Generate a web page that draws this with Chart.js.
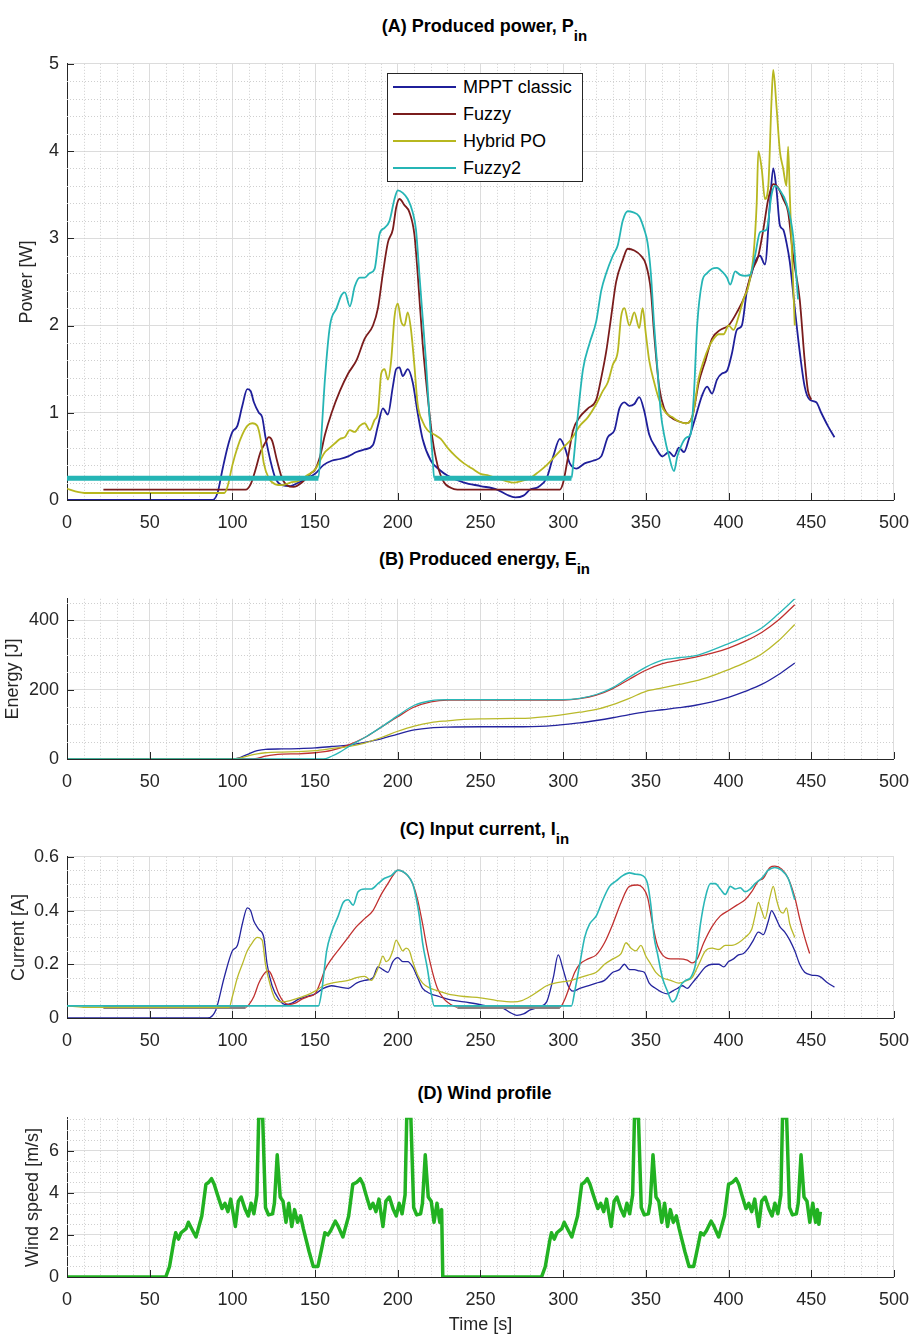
<!DOCTYPE html>
<html><head><meta charset="utf-8">
<script src="https://cdn.jsdelivr.net/npm/chart.js@4.4.1/dist/chart.umd.min.js"></script>
<style>
body{margin:0;background:#fff;width:921px;height:1337px;position:relative;overflow:hidden;font-family:"Liberation Sans",Arial,sans-serif;}
canvas{position:absolute;left:0;}
.ttl{position:absolute;left:67px;width:835px;text-align:center;font-weight:bold;font-size:18px;line-height:20px;color:#000;white-space:nowrap;}
.ttl sub{font-size:15px;vertical-align:-9px;line-height:0;}
#legend{position:absolute;left:387px;top:73px;width:194px;height:107px;border:1px solid #262626;background:#fff;}
.lg{position:absolute;left:0;height:20px;line-height:20px;font-size:18px;color:#000;}
.lg i{position:absolute;left:5px;top:9px;width:63px;height:2px;}
.lg span{position:absolute;left:75px;top:0;white-space:nowrap;}
</style></head><body>
<div class="ttl" style="top:16px">(A) Produced power, P<sub>in</sub></div>
<div class="ttl" style="top:549px">(B) Produced energy, E<sub>in</sub></div>
<div class="ttl" style="top:819px">(C) Input current, I<sub>in</sub></div>
<div class="ttl" style="top:1083px">(D) Wind profile</div>
<canvas id="cA" width="921" height="495" style="top:45px"></canvas>
<canvas id="cB" width="921" height="219" style="top:580px"></canvas>
<canvas id="cC" width="921" height="220" style="top:838px"></canvas>
<canvas id="cD" width="921" height="238" style="top:1099px"></canvas>
<div id="legend"></div>
<script>
// ---------- DATA ----------
const seriesNames = ["MPPT classic", "Fuzzy", "Hybrid PO", "Fuzzy2"];
const xTicks = [0, 50, 100, 150, 200, 250, 300, 350, 400, 450, 500];

// (A) Produced power [W]  [time s, value]
const powerMppt = [[0,0],[88,0],[91,0.08],[94,0.35],[97,0.6],[100,0.78],[103,0.85],[106,1.08],[109,1.27],[111,1.25],[113,1.12],[116,1.0],[118,0.95],[120,0.72],[123,0.45],[126,0.25],[130,0.17],[135,0.16],[140,0.2],[145,0.25],[150,0.3],[155,0.4],[160,0.45],[165,0.47],[170,0.5],[175,0.55],[180,0.58],[185,0.63],[188,0.85],[191,1.05],[194,0.98],[197,1.3],[199,1.5],[201,1.52],[203,1.42],[206,1.5],[209,1.35],[212,1.0],[215,0.7],[220,0.45],[225,0.35],[230,0.28],[240,0.2],[250,0.16],[260,0.12],[266,0.06],[271,0.03],[276,0.05],[280,0.12],[285,0.15],[290,0.25],[294,0.5],[298,0.7],[301,0.6],[304,0.42],[308,0.36],[313,0.42],[318,0.45],[323,0.5],[327,0.72],[331,0.8],[334,1.05],[337,1.12],[340,1.08],[343,1.1],[346,1.18],[349,1.02],[352,0.75],[356,0.6],[360,0.5],[364,0.55],[367,0.5],[370,0.6],[373,0.55],[376,0.7],[380,0.95],[384,1.2],[387,1.3],[390,1.22],[393,1.38],[396,1.45],[399,1.48],[402,1.68],[405,1.95],[408,2.0],[411,2.39],[414,2.6],[416,2.73],[419,2.8],[422,2.7],[425,3.4],[427,3.8],[429,3.55],[431,3.15],[433,3.1],[435,2.95],[437,2.73],[440,2.2],[443,1.7],[446,1.3],[449,1.15],[453,1.12],[456,1.0],[460,0.85],[464,0.72]];
const powerFuzzy = [[22,0.12],[108,0.12],[111,0.18],[114,0.35],[117,0.55],[120,0.66],[122,0.72],[124,0.68],[127,0.45],[130,0.25],[133,0.17],[137,0.15],[142,0.2],[147,0.3],[150,0.35],[153,0.5],[156,0.75],[160,1.0],[165,1.25],[170,1.45],[175,1.6],[180,1.85],[185,2.0],[188,2.2],[191,2.6],[194,2.95],[197,3.1],[199,3.35],[201,3.45],[204,3.38],[207,3.3],[210,3.05],[212,2.6],[215,1.8],[218,1.2],[221,0.7],[224,0.4],[228,0.2],[232,0.14],[236,0.12],[298,0.12],[300,0.2],[303,0.5],[306,0.8],[310,0.95],[315,1.05],[320,1.15],[323,1.4],[326,1.7],[329,2.1],[332,2.5],[336,2.75],[339,2.88],[343,2.86],[347,2.8],[350,2.7],[353,2.4],[355,1.9],[358,1.3],[361,1.05],[365,0.95],[370,0.9],[374,0.88],[378,0.95],[382,1.35],[386,1.6],[390,1.85],[395,1.95],[400,2.0],[405,2.15],[410,2.35],[414,2.62],[418,2.8],[421,3.1],[424,3.45],[427,3.62],[430,3.58],[433,3.45],[436,3.3],[439,2.8],[443,2.3],[446,1.6],[448,1.25],[450,1.15]];
const powerHybrid = [[0,0.13],[5,0.1],[12,0.08],[95,0.08],[97,0.15],[100,0.4],[103,0.6],[106,0.75],[109,0.85],[112,0.88],[115,0.85],[117,0.7],[119,0.42],[122,0.25],[126,0.18],[130,0.17],[135,0.2],[140,0.22],[145,0.28],[150,0.35],[153,0.45],[156,0.55],[159,0.6],[162,0.65],[165,0.7],[168,0.72],[171,0.8],[174,0.78],[177,0.85],[180,0.88],[183,0.8],[186,0.92],[188,1.0],[190,1.45],[192,1.5],[194,1.38],[196,1.6],[198,2.1],[200,2.25],[202,2.05],[204,2.0],[206,2.15],[208,1.95],[210,1.55],[212,1.1],[215,0.9],[218,0.8],[222,0.75],[226,0.7],[230,0.6],[235,0.5],[240,0.42],[245,0.36],[250,0.3],[255,0.28],[260,0.25],[265,0.22],[270,0.2],[275,0.22],[280,0.25],[285,0.32],[290,0.4],[295,0.5],[300,0.6],[305,0.7],[310,0.85],[315,0.95],[320,1.1],[324,1.25],[327,1.35],[330,1.55],[333,1.7],[335,2.1],[337,2.2],[340,2.0],[343,2.15],[346,1.97],[348,2.2],[350,1.9],[352,1.6],[355,1.35],[358,1.15],[362,1.0],[366,0.95],[370,0.9],[374,0.88],[378,0.95],[382,1.4],[385,1.6],[388,1.75],[391,1.85],[394,1.9],[397,1.9],[400,2.0],[403,1.95],[406,2.1],[409,2.3],[412,2.45],[415,2.8],[417,3.4],[418,4.0],[420,3.8],[422,3.45],[424,3.6],[426,4.6],[427,4.93],[429,4.5],[431,4.0],[433,3.8],[435,3.6],[436,4.05],[437,3.5],[439,2.5],[440,2.0]];
const powerFuzzy2 = [[0,0.25],[152,0.25],[154,0.8],[156,1.4],[159,2.0],[163,2.2],[166,2.35],[168,2.38],[171,2.22],[174,2.45],[177,2.55],[180,2.55],[183,2.6],[186,2.65],[189,3.05],[192,3.12],[195,3.2],[198,3.45],[200,3.55],[203,3.52],[206,3.45],[209,3.3],[211,3.1],[213,2.6],[215,2.1],[217,1.6],[219,1.0],[221,0.5],[222,0.25],[305,0.25],[306,0.4],[309,1.0],[312,1.5],[316,1.8],[320,2.05],[323,2.4],[326,2.6],[330,2.8],[333,2.92],[336,3.2],[339,3.31],[342,3.3],[346,3.25],[349,3.1],[351,2.95],[353,2.6],[355,2.0],[357,1.5],[359,1.0],[361,0.75],[364,0.5],[367,0.33],[369,0.5],[372,0.65],[375,0.72],[377,0.75],[379,1.2],[381,2.0],[384,2.5],[387,2.6],[390,2.65],[393,2.66],[396,2.62],[399,2.55],[401,2.47],[404,2.62],[407,2.58],[410,2.57],[413,2.58],[416,2.8],[419,3.07],[423,3.1],[426,3.5],[428,3.6],[431,3.55],[435,3.4],[439,3.03],[442,2.3]];

// (B) Produced energy [J]
const energyMppt = [[0,0],[100,0],[105,5],[110,15],[115,24],[120,28],[130,29],[140,30],[150,32],[160,36],[170,40],[180,48],[190,58],[200,72],[210,84],[220,90],[230,92],[250,93],[270,93],[290,95],[300,99],[310,104],[320,111],[330,119],[340,128],[350,136],[360,142],[370,148],[380,155],[390,165],[400,178],[410,195],[420,215],[430,243],[440,277]];
const energyFuzzy = [[22,0],[110,0],[115,2],[120,8],[125,12],[130,14],[140,15],[150,18],[160,25],[170,40],[180,62],[190,92],[200,122],[210,150],[220,165],[230,170],[250,170],[300,170],[310,174],[320,184],[330,203],[340,230],[350,256],[360,275],[370,285],[380,294],[390,305],[400,320],[410,340],[420,365],[430,400],[440,445]];
const energyHybrid = [[0,0],[100,0],[105,3],[110,10],[115,15],[120,18],[130,20],[140,21],[150,24],[160,30],[170,36],[180,46],[190,62],[200,80],[210,95],[220,105],[230,110],[240,114],[250,116],[270,117],[280,118],[290,122],[300,128],[310,135],[320,143],[330,157],[340,175],[350,195],[360,205],[370,215],[380,225],[390,240],[400,258],[410,278],[420,303],[430,340],[440,388]];
const energyFuzzy2 = [[0,0],[155,0],[160,8],[165,20],[170,35],[180,62],[190,92],[200,125],[210,155],[220,168],[230,171],[300,171],[310,175],[320,186],[330,206],[340,236],[350,265],[360,285],[370,292],[380,298],[390,314],[400,333],[410,353],[420,378],[430,418],[440,462]];

// (C) Input current [A]
const currentMppt = [[0,0],[85,0],[90,0.03],[95,0.15],[100,0.25],[103,0.27],[106,0.35],[109,0.41],[111,0.4],[113,0.36],[116,0.33],[119,0.3],[121,0.2],[124,0.12],[128,0.07],[132,0.05],[136,0.055],[140,0.07],[145,0.08],[150,0.09],[155,0.11],[160,0.12],[165,0.115],[170,0.11],[175,0.13],[180,0.14],[185,0.15],[188,0.19],[191,0.18],[194,0.17],[197,0.21],[200,0.225],[203,0.21],[206,0.21],[209,0.19],[212,0.15],[215,0.11],[220,0.09],[225,0.08],[230,0.07],[240,0.06],[250,0.05],[258,0.04],[262,0.04],[268,0.02],[272,0.01],[276,0.015],[280,0.03],[285,0.04],[290,0.06],[294,0.15],[297,0.235],[300,0.18],[303,0.12],[306,0.1],[310,0.11],[315,0.12],[320,0.13],[325,0.14],[330,0.17],[334,0.18],[337,0.2],[340,0.18],[343,0.18],[346,0.175],[349,0.17],[352,0.13],[356,0.11],[360,0.095],[363,0.09],[366,0.1],[369,0.11],[372,0.12],[375,0.11],[378,0.13],[382,0.16],[386,0.19],[390,0.2],[394,0.2],[397,0.19],[400,0.21],[403,0.22],[406,0.235],[409,0.24],[412,0.26],[415,0.29],[418,0.32],[421,0.31],[424,0.36],[426,0.4],[428,0.38],[431,0.34],[434,0.32],[437,0.29],[440,0.25],[443,0.2],[446,0.17],[450,0.16],[455,0.155],[460,0.13],[464,0.115]];
const currentFuzzy = [[22,0.04],[108,0.04],[110,0.05],[113,0.08],[116,0.13],[120,0.17],[122,0.175],[125,0.14],[128,0.09],[131,0.06],[134,0.05],[138,0.055],[142,0.07],[146,0.08],[150,0.09],[153,0.13],[156,0.18],[160,0.22],[165,0.26],[170,0.3],[175,0.34],[180,0.37],[185,0.4],[190,0.46],[194,0.5],[197,0.53],[200,0.55],[203,0.545],[206,0.53],[209,0.5],[212,0.44],[215,0.35],[218,0.25],[221,0.17],[224,0.11],[228,0.07],[232,0.05],[236,0.04],[298,0.04],[301,0.07],[304,0.12],[307,0.17],[310,0.2],[315,0.22],[320,0.235],[325,0.28],[330,0.35],[335,0.43],[340,0.49],[345,0.495],[348,0.485],[351,0.45],[354,0.35],[357,0.27],[360,0.235],[365,0.22],[370,0.22],[375,0.215],[378,0.205],[381,0.22],[385,0.28],[390,0.34],[395,0.38],[400,0.4],[405,0.42],[410,0.44],[414,0.47],[418,0.51],[421,0.52],[425,0.56],[428,0.565],[432,0.555],[436,0.52],[440,0.45],[443,0.37],[446,0.3],[449,0.24]];
const currentHybrid = [[0,0.045],[10,0.04],[98,0.04],[100,0.08],[103,0.15],[106,0.2],[109,0.25],[112,0.28],[115,0.3],[118,0.29],[120,0.2],[123,0.12],[126,0.07],[130,0.06],[135,0.065],[140,0.075],[145,0.085],[150,0.1],[155,0.12],[160,0.13],[165,0.135],[170,0.14],[175,0.15],[180,0.155],[184,0.14],[187,0.17],[189,0.2],[191,0.23],[193,0.21],[195,0.22],[197,0.25],[199,0.29],[201,0.27],[203,0.25],[205,0.26],[207,0.25],[209,0.21],[212,0.16],[215,0.13],[220,0.11],[225,0.1],[230,0.09],[240,0.08],[250,0.075],[260,0.065],[270,0.06],[275,0.065],[280,0.08],[285,0.1],[290,0.12],[295,0.13],[300,0.135],[305,0.14],[310,0.15],[315,0.16],[320,0.17],[325,0.2],[330,0.22],[335,0.24],[338,0.28],[341,0.26],[344,0.25],[347,0.27],[350,0.23],[353,0.2],[356,0.17],[360,0.15],[365,0.14],[370,0.13],[375,0.14],[378,0.15],[382,0.2],[386,0.25],[390,0.26],[394,0.255],[398,0.27],[402,0.27],[406,0.28],[410,0.3],[414,0.33],[416,0.38],[418,0.43],[420,0.4],[422,0.37],[425,0.45],[427,0.49],[429,0.44],[431,0.4],[433,0.39],[435,0.41],[437,0.35],[440,0.3]];
const currentFuzzy2 = [[0,0.045],[152,0.045],[154,0.1],[157,0.25],[160,0.32],[164,0.38],[167,0.43],[170,0.44],[173,0.42],[176,0.47],[180,0.48],[184,0.48],[188,0.5],[192,0.52],[196,0.53],[200,0.55],[203,0.545],[206,0.53],[209,0.5],[211,0.45],[213,0.38],[215,0.28],[218,0.18],[220,0.1],[222,0.045],[305,0.045],[307,0.1],[310,0.2],[313,0.3],[316,0.35],[320,0.38],[324,0.44],[328,0.49],[332,0.51],[336,0.53],[340,0.54],[344,0.535],[348,0.53],[351,0.5],[353,0.42],[355,0.3],[357,0.24],[360,0.15],[363,0.1],[366,0.06],[368,0.07],[371,0.12],[374,0.14],[377,0.15],[380,0.2],[383,0.35],[386,0.45],[389,0.5],[392,0.5],[395,0.48],[398,0.46],[401,0.49],[404,0.48],[407,0.485],[410,0.47],[413,0.48],[416,0.5],[420,0.52],[424,0.55],[428,0.56],[432,0.55],[436,0.52],[440,0.44]];

// (D) Wind profile [m/s]
const windSpeed = [[0,0],[59.7,0],[62,0.5],[64.6,1.7],[65.7,2.1],[67.4,1.8],[69,2.1],[72,2.3],[73.4,2.6],[76,2.2],[78,1.9],[81.5,2.9],[84,4.4],[85.7,4.5],[87.4,4.67],[89,4.4],[91,3.9],[93.7,3.25],[95.5,3.5],[97.3,3.1],[99,3.7],[101.8,2.4],[103.6,3.6],[105.3,3.8],[107.8,3.2],[109.6,2.9],[111.3,3.5],[113,3.0],[114.8,3.9],[115.9,7.56],[118.3,7.56],[120,3.3],[121.8,2.95],[124.3,3.0],[125.4,3.5],[127.1,5.8],[128.9,3.8],[130.6,3.6],[132.4,2.6],[134.1,3.5],[135.9,2.4],[137.6,3.2],[139.4,2.6],[141.2,2.9],[142.9,2.3],[146.4,1.2],[148.9,0.5],[151.7,0.5],[154.1,1.4],[155.9,2.1],[157.7,2.0],[159.4,2.2],[162.2,2.65],[164,2.4],[166.8,1.9],[170.3,2.9],[172.8,4.4],[175.2,4.5],[177.3,4.67],[179,4.4],[180.8,3.9],[183.3,3.25],[185,3.5],[186.8,3.1],[188.6,3.7],[191,2.4],[192.8,3.6],[194.9,3.8],[197.3,3.2],[199.1,2.9],[200.8,3.5],[202.6,3.0],[204.4,3.9],[205.4,7.56],[207.9,7.56],[209.6,3.3],[211.4,2.95],[213.8,3.0],[214.9,3.5],[216.6,5.8],[218.4,3.8],[220.2,3.6],[221.9,2.6],[223.7,3.5],[225.4,2.6],[226.5,3.2],[227.2,0],[286.9,0],[289.2,0.5],[291.8,1.7],[292.9,2.1],[294.6,1.8],[296.2,2.1],[299.2,2.3],[300.6,2.6],[303.2,2.2],[305.2,1.9],[308.7,2.9],[311.2,4.4],[312.9,4.5],[314.6,4.67],[316.2,4.4],[318.2,3.9],[320.9,3.25],[322.7,3.5],[324.5,3.1],[326.2,3.7],[329,2.4],[330.8,3.6],[332.5,3.8],[335,3.2],[336.8,2.9],[338.5,3.5],[340.2,3.0],[342,3.9],[343.1,7.56],[345.5,7.56],[347.2,3.3],[349,2.95],[351.5,3.0],[352.6,3.5],[354.3,5.8],[356.1,3.8],[357.8,3.6],[359.6,2.6],[361.3,3.5],[363.1,2.4],[364.8,3.2],[366.6,2.6],[368.4,2.9],[370.1,2.3],[373.6,1.2],[376.1,0.5],[378.9,0.5],[381.3,1.4],[383.1,2.1],[384.9,2.0],[386.6,2.2],[389.4,2.65],[391.2,2.4],[394,1.9],[397.5,2.9],[400,4.4],[402.4,4.5],[404.5,4.67],[406.2,4.4],[408,3.9],[410.5,3.25],[412.2,3.5],[414,3.1],[415.8,3.7],[418.2,2.4],[420,3.6],[422.1,3.8],[424.5,3.2],[426.3,2.9],[428,3.5],[429.8,3.0],[431.6,3.9],[432.6,7.56],[435.1,7.56],[436.8,3.3],[438.6,2.95],[441,3.0],[442.1,3.5],[443.8,5.8],[445.6,3.8],[447.4,3.6],[449.1,2.6],[450.9,3.5],[452.6,2.6],[453.7,3.2],[454.6,2.5],[455.5,3.1]];

// ---------- STYLE ----------
const colorsA = ["#1f1f9a", "#7a1c1c", "#b7b71f", "#25b5b5"];
const colorsBC = ["#24249e", "#c0302f", "#b9b92a", "#2ab7b7"];
const windColor = "#22b222";
Chart.defaults.font.family = '"Liberation Sans", Arial, sans-serif';
const AX = '#262626';

const toPts = arr => arr.map(p => ({x: p[0], y: p[1]}));

const matlabAxes = {
  id: 'matlabAxes',
  beforeDatasetsDraw(chart, args, o) {
    const {ctx, chartArea: a, scales: {x, y}} = chart;
    ctx.save();
    ctx.strokeStyle = '#cfcfcf'; ctx.lineWidth = 1; ctx.setLineDash([1, 2]);
    const nx = Math.round((x.max - x.min) / o.xMinor);
    for (let i = 1; i < nx; i++) {
      const v = x.min + i * o.xMinor;
      if (Math.abs(v / o.xMajor - Math.round(v / o.xMajor)) < 1e-6) continue;
      const px = Math.round(x.getPixelForValue(v)) + 0.5;
      ctx.beginPath(); ctx.moveTo(px, a.top); ctx.lineTo(px, a.bottom); ctx.stroke();
    }
    const ny = Math.floor((y.max - y.min) / o.yMinor + 1e-6);
    for (let i = 1; i <= ny; i++) {
      const v = y.min + i * o.yMinor;
      if (Math.abs(v / o.yMajor - Math.round(v / o.yMajor)) < 1e-6) continue;
      const py = Math.round(y.getPixelForValue(v)) + 0.5;
      ctx.beginPath(); ctx.moveTo(a.left, py); ctx.lineTo(a.right, py); ctx.stroke();
    }
    ctx.restore();
  },
  afterDraw(chart) {
    const {ctx, chartArea: a, scales: {x, y}} = chart;
    ctx.save();
    ctx.strokeStyle = AX; ctx.lineWidth = 1;
    x.ticks.forEach(t => {
      const px = Math.round(x.getPixelForValue(t.value)) + 0.5;
      ctx.beginPath(); ctx.moveTo(px, a.bottom); ctx.lineTo(px, a.bottom - 7); ctx.stroke();
    });
    y.ticks.forEach(t => {
      const py = Math.round(y.getPixelForValue(t.value)) + 0.5;
      ctx.beginPath(); ctx.moveTo(a.left, py); ctx.lineTo(a.left + 7, py); ctx.stroke();
    });
    ctx.restore();
  }
};

function makeChart(id, p) {
  return new Chart(document.getElementById(id), {
    type: 'line',
    data: {datasets: p.datasets},
    plugins: [matlabAxes],
    options: {
      responsive: false, animation: false, events: [],
      layout: {padding: {top: 10, right: 19, bottom: 0, left: p.padLeft}},
      plugins: {legend: {display: false}, tooltip: {enabled: false},
        matlabAxes: {xMinor: 10, xMajor: 50, yMinor: p.yMinor, yMajor: p.ystep}},
      elements: {point: {radius: 0}},
      scales: {
        x: {type: 'linear', min: 0, max: 500,
          afterBuildTicks: s => { s.ticks = xTicks.map(v => ({value: v})); },
          ticks: {stepSize: 50, padding: 12, color: AX, font: {size: 18}, maxRotation: 0, autoSkip: false},
          grid: {color: '#dcdcdc', drawTicks: false},
          border: {color: AX, width: 1},
          title: {display: !!p.xlabel, text: p.xlabel || '', color: AX, font: {size: 18}, padding: {top: 0, bottom: 1}},
          afterFit: s => { s.height = p.xh; }
        },
        y: {type: 'linear', min: 0, max: p.ymax,
          ticks: {stepSize: p.ystep, includeBounds: false, padding: 8, color: AX, font: {size: 18}},
          grid: {color: '#dcdcdc', drawTicks: false},
          border: {color: AX, width: 1},
          title: {display: true, text: p.ylabel, color: AX, font: {size: 18}, padding: 0},
          afterFit: s => { s.width = 67 - p.padLeft; }
        }
      }
    }
  });
}

function lineDs(name, pts, color, width, order, extra) {
  return Object.assign({label: name, data: toPts(pts), borderColor: color, borderWidth: width,
    cubicInterpolationMode: 'monotone', fill: false, order: order}, extra || {});
}
const flatSeg = (level, wFlat, wNorm, cFlat, cNorm) => ({
  borderWidth: c => (c.p0.parsed.y === level && c.p1.parsed.y === level) ? wFlat : wNorm,
  borderColor: c => (c.p0.parsed.y === level && c.p1.parsed.y === level) ? cFlat : cNorm
});

makeChart('cA', {padLeft: 16, xh: 40, ymax: 5, ystep: 1, yMinor: 0.2, ylabel: 'Power [W]',
  datasets: [
    lineDs(seriesNames[0], powerMppt, colorsA[0], 1.8, 4),
    lineDs(seriesNames[1], powerFuzzy, colorsA[1], 1.8, 3),
    lineDs(seriesNames[2], powerHybrid, colorsA[2], 1.8, 2),
    lineDs(seriesNames[3], powerFuzzy2, colorsA[3], 1.8, 1, {segment: flatSeg(0.25, 5, 1.8, colorsA[3], colorsA[3])})
  ]});
makeChart('cB', {padLeft: 2, xh: 40, ymax: 462, ystep: 200, yMinor: 50, ylabel: 'Energy [J]',
  datasets: [
    lineDs(seriesNames[0], energyMppt, colorsBC[0], 1.3, 4),
    lineDs(seriesNames[1], energyFuzzy, colorsBC[1], 1.3, 3),
    lineDs(seriesNames[2], energyHybrid, colorsBC[2], 1.3, 2),
    lineDs(seriesNames[3], energyFuzzy2, colorsBC[3], 1.3, 1)
  ]});
makeChart('cC', {padLeft: 8, xh: 40, ymax: 0.6, ystep: 0.2, yMinor: 0.05, ylabel: 'Current [A]',
  datasets: [
    lineDs(seriesNames[0], currentMppt, colorsBC[0], 1.3, 4),
    lineDs(seriesNames[1], currentFuzzy, colorsBC[1], 1.3, 3, {segment: flatSeg(0.04, 3.5, 1.3, '#8c8080', colorsBC[1])}),
    lineDs(seriesNames[2], currentHybrid, colorsBC[2], 1.3, 2),
    lineDs(seriesNames[3], currentFuzzy2, colorsBC[3], 1.6, 1)
  ]});
makeChart('cD', {padLeft: 22, xh: 60, ymax: 7.56, ystep: 2, yMinor: 0.5, ylabel: 'Wind speed [m/s]', xlabel: 'Time [s]',
  datasets: [
    {label: 'Wind', data: toPts(windSpeed), borderColor: windColor, borderWidth: 3.5, tension: 0, fill: false, borderJoinStyle: 'round'}
  ]});

// legend (panel A)
const lg = document.getElementById('legend');
const rowsY = [3, 30, 57, 84];
seriesNames.forEach((n, i) => {
  const d = document.createElement('div');
  d.className = 'lg'; d.style.top = rowsY[i] + 'px';
  d.innerHTML = '<i style="background:' + colorsA[i] + '"></i><span>' + n + '</span>';
  lg.appendChild(d);
});
</script>
</body></html>
